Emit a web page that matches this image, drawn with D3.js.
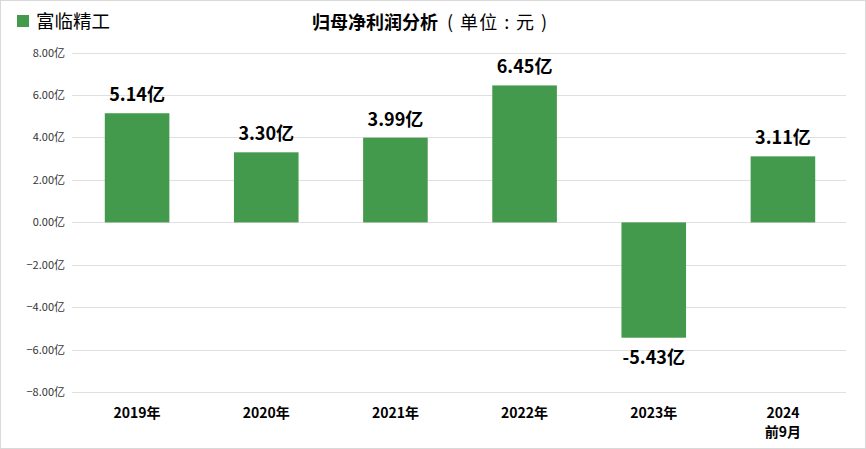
<!DOCTYPE html>
<html><head><meta charset="utf-8">
<script src="https://cdn.jsdelivr.net/npm/d3@7"></script>
<style>body{margin:0;background:#fff}svg{display:block}</style>
</head><body>
<svg id="c" width="866" height="449"></svg>
<script>
const categories = ["2019年","2020年","2021年","2022年","2023年","2024\n前9月"];
const values = [5.14, 3.30, 3.99, 6.45, -5.43, 3.11];
const valueLabels = ["5.14亿","3.30亿","3.99亿","6.45亿","-5.43亿","3.11亿"];
const yTicks = [8,6,4,2,0,-2,-4,-6,-8];
const seriesName = "富临精工";
const titleBold = "归母净利润分析";
const titleUnit = "( 单位 : 元 )";

const svg = d3.select("#c");
const W = 866, H = 449;
const font = "'Microsoft YaHei','Noto Sans CJK SC',sans-serif";
const green = "#449a4c";

svg.append("rect").attr("x",0.5).attr("y",0.5).attr("width",W-1).attr("height",H-1)
  .attr("fill","#fff").attr("stroke","#d9d9d9");

const x = d3.scaleBand().domain(categories).range([72.5,847.5]).paddingInner(0.5).paddingOuter(0.25);
const y = d3.scaleLinear().domain([-8,8]).range([392.3,52.5]);

// gridlines
svg.append("g").selectAll("line").data(yTicks).join("line")
  .attr("x1",72).attr("x2",846)
  .attr("y1",d=>Math.round(y(d))+0.5).attr("y2",d=>Math.round(y(d))+0.5)
  .attr("stroke","#e0e0e0").attr("stroke-width",1);

// y axis labels
const yAxis = d3.axisLeft(y).tickValues(yTicks).tickSize(0).tickPadding(0)
  .tickFormat(d=>d3.format(".2f")(d)+"亿");
const ga = svg.append("g").attr("transform","translate(65,0)").call(yAxis);
ga.select(".domain").remove();
ga.selectAll("text").attr("font-family",font).attr("font-size",11).attr("fill","#333");

// bars
svg.append("g").selectAll("rect").data(values).join("rect")
  .attr("x",(d,i)=>x(categories[i]))
  .attr("width",x.bandwidth())
  .attr("y",d=>y(Math.max(0,d)))
  .attr("height",d=>Math.abs(y(d)-y(0)))
  .attr("fill",green);

// value labels
svg.append("g").selectAll("text").data(values).join("text")
  .attr("x",(d,i)=>x(categories[i])+x.bandwidth()/2)
  .attr("y",d=> d>=0 ? y(d)-12 : y(d)+26)
  .attr("text-anchor","middle")
  .attr("font-family",font).attr("font-size",18).attr("font-weight","bold").attr("fill","#000")
  .text((d,i)=>valueLabels[i]);

// x labels
const xl = svg.append("g").selectAll("text").data(categories).join("text")
  .attr("x",d=>x(d)+x.bandwidth()/2)
  .attr("y",418)
  .attr("text-anchor","middle")
  .attr("font-family",font).attr("font-size",14).attr("font-weight","bold").attr("fill","#000");
xl.each(function(d){
  const t = d3.select(this);
  d.split("\n").forEach((s,k)=>{
    t.append("tspan").attr("x",t.attr("x")).attr("dy",k?19:0).text(s);
  });
});

// legend
svg.append("rect").attr("x",17).attr("y",15).attr("width",12).attr("height",12).attr("fill",green);
svg.append("text").attr("x",36).attr("y",28).attr("font-family",font).attr("font-size",18.5).attr("fill","#000").text(seriesName);

// title
svg.append("text").attr("x",312).attr("y",29).attr("font-family",font).attr("font-size",18)
  .attr("font-weight","bold").attr("fill","#000").text(titleBold);
svg.append("text").attr("x",447).attr("y",29).attr("font-family",font).attr("font-size",18)
  .attr("fill","#000").attr("textLength",100).attr("lengthAdjust","spacing").text(titleUnit);
</script>
</body></html>
